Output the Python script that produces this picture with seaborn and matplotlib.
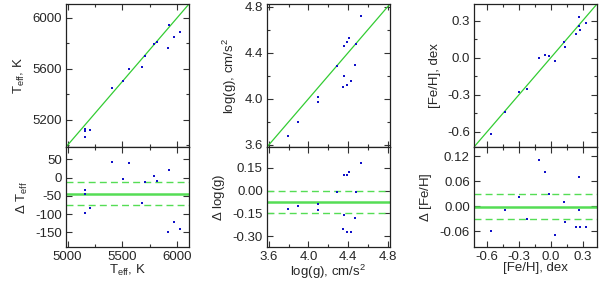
import numpy as np
import matplotlib
matplotlib.use('Agg')
import matplotlib.pyplot as plt
from matplotlib.ticker import MultipleLocator, FormatStrFormatter
import seaborn as sns

# values: reference parameter and difference
teff_ref = [5406, 5560, 5509, 5712, 5794, 5818, 5924, 5157, 5157, 5157, 5203, 5682, 5915, 5973, 6030]
teff_delta = [42, 40, -5, -12, 5, -9, 20, -34, -45, -97, -84, -69, -150, -121, -141]
teff_mean, teff_band = -44, (-13, -75)

logg_ref = [3.794, 3.894, 4.10, 4.10, 4.29, 4.357, 4.394, 4.407, 4.534, 4.484, 4.36, 4.47, 4.354, 4.394, 4.427]
logg_delta = [-0.120, -0.100, -0.089, -0.128, -0.009, 0.102, 0.102, 0.122, 0.183, -0.009,
              -0.161, -0.180, -0.250, -0.270, -0.270]
logg_mean, logg_band = -0.072, (0.0, -0.148)

feh_ref = [-0.563, -0.433, -0.303, -0.226, -0.109, -0.056, -0.016, 0.039, 0.12, 0.129, 0.24, 0.277, 0.329, 0.261, 0.268]
feh_delta = [-0.059, -0.010, 0.021, -0.030, 0.110, 0.081, 0.030, -0.070, 0.010, -0.039,
             -0.050, -0.050, -0.050, 0.070, -0.010]
feh_mean, feh_band = -0.003, (0.028, -0.032)

sns.set_style('ticks')
plt.rcParams['font.family'] = ['Liberation Sans', 'DejaVu Sans']
plt.rcParams['axes.unicode_minus'] = False
plt.rcParams['mathtext.fontset'] = 'custom'
plt.rcParams['mathtext.rm'] = 'Liberation Sans'

fig = plt.figure(figsize=(6, 2.81), dpi=100)

panels = [
    dict(ref=teff_ref, delta=teff_delta, mean=teff_mean, band=teff_band,
         lim=(4985, 6110), dlim=(-190, 84),
         xmaj=500, xmin=250, ymaj=400, ymin=200, dmaj=50, dmin=50,
         fmt='%d', dfmt='%d', xfmt='%d',
         ylab=r'T$_{\rm eff}$, K', dlab=r'$\Delta$ T$_{\rm eff}$', xlab=r'T$_{\rm eff}$, K',
         left=66),
    dict(ref=logg_ref, delta=logg_delta, mean=logg_mean, band=logg_band,
         lim=(3.58, 4.825), dlim=(-0.37, 0.285),
         xmaj=0.4, xmin=0.2, ymaj=0.4, ymin=0.2, dmaj=0.15, dmin=0.15,
         fmt='%.1f', dfmt='%.2f', xfmt='%.1f',
         ylab=r'log(g), cm/s$^2$', dlab=r'$\Delta$ log(g)', xlab=r'log(g), cm/s$^2$',
         left=267),
    dict(ref=feh_ref, delta=feh_delta, mean=feh_mean, band=feh_band,
         lim=(-0.724, 0.435), dlim=(-0.098, 0.142),
         xmaj=0.3, xmin=0.15, ymaj=0.3, ymin=0.15, dmaj=0.06, dmin=0.06,
         fmt='%.1f', dfmt='%.2f', xfmt='%.1f',
         ylab='[Fe/H], dex', dlab=r'$\Delta$ [Fe/H]', xlab='[Fe/H], dex',
         left=474),
]

W, H = 600, 281
top_px, mid_px, bot_px = 4, 147, 247
pt_color = '#1010c8'
ln_color = '#33cc33'

for p in panels:
    ref = np.array(p['ref'], dtype=float)
    delta = np.array(p['delta'], dtype=float)
    meas = ref + delta
    l = p['left'] / W
    w = 123 / W
    ax1 = fig.add_axes([l, 1 - mid_px / H, w, (mid_px - top_px) / H])
    ax2 = fig.add_axes([l, 1 - bot_px / H, w, (bot_px - mid_px) / H])

    lo, hi = p['lim']
    ax1.plot([lo, hi], [lo, hi], color=ln_color, lw=0.9, zorder=1)
    sns.scatterplot(x=ref, y=meas, ax=ax1, color=pt_color, marker='s', s=4.5,
                    linewidth=0, zorder=3)
    ax1.set_xlim(lo, hi)
    ax1.set_ylim(lo, hi)

    ax2.axhline(p['mean'], color='#55dd55', lw=1.8, zorder=1)
    for b in p['band']:
        ax2.axhline(b, color='#55dd55', lw=1.0, ls=(0, (5, 3)), zorder=1)
    sns.scatterplot(x=ref, y=delta, ax=ax2, color=pt_color, marker='s', s=4.5,
                    linewidth=0, zorder=3)
    ax2.set_xlim(lo, hi)
    ax2.set_ylim(*p['dlim'])

    for ax in (ax1, ax2):
        ax.xaxis.set_major_locator(MultipleLocator(p['xmaj']))
        ax.xaxis.set_minor_locator(MultipleLocator(p['xmin']))
        ax.tick_params(which='both', direction='in', top=True, right=True,
                       labelsize=9.5, color='#333333', width=0.8, pad=3)
        ax.tick_params(which='major', length=4.5)
        ax.tick_params(which='minor', length=2.5)
        for s in ax.spines.values():
            s.set_linewidth(0.9)
            s.set_color('#222222')

    ax1.yaxis.set_major_locator(MultipleLocator(p['ymaj']))
    ax1.yaxis.set_minor_locator(MultipleLocator(p['ymin']))
    ax1.yaxis.set_major_formatter(FormatStrFormatter(p['fmt']))
    ax1.tick_params(labelbottom=False)
    ax2.yaxis.set_major_locator(MultipleLocator(p['dmaj']))
    ax2.yaxis.set_minor_locator(MultipleLocator(p['dmin']))
    ax2.yaxis.set_major_formatter(FormatStrFormatter(p['dfmt']))
    ax2.xaxis.set_major_formatter(FormatStrFormatter(p['xfmt']))

    ax1.set_xlabel('')
    ax1.set_ylabel(p['ylab'], fontsize=9.5)
    ax2.set_ylabel(p['dlab'], fontsize=9.5)
    ax2.set_xlabel(p['xlab'], fontsize=9.5, labelpad=-0.5)

fig.savefig('out.png', dpi=100)
